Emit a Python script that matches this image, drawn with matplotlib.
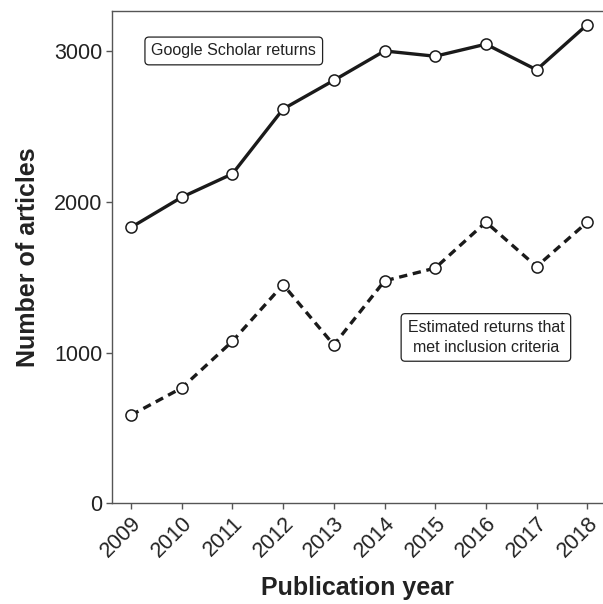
import matplotlib
matplotlib.use("Agg")
import matplotlib.pyplot as plt

years = [2009, 2010, 2011, 2012, 2013, 2014, 2015, 2016, 2017, 2018]
scholar_returns = [1830, 2030, 2185, 2615, 2805, 3000, 2965, 3045, 2875, 3175]
met_criteria = [585, 765, 1075, 1450, 1050, 1475, 1560, 1865, 1570, 1865]
y_ticks = [0, 1000, 2000, 3000]

plt.rcParams["font.family"] = ["Liberation Sans", "DejaVu Sans"]

fig = plt.figure(figsize=(6.03, 6.04), dpi=100)
ax = fig.add_axes([112.3 / 603, 100.7 / 604, (603 - 112.3) / 603, (503.3 - 11) / 604])

ax.plot(years, scholar_returns, color="#1a1a1a", lw=2.4, marker="o", ms=8,
        mfc="white", mec="#1a1a1a", mew=1.1, solid_capstyle="butt", zorder=3)
ax.plot(years, met_criteria, color="#1a1a1a", lw=2.4, ls=(0, (2.5, 1.7)),
        marker="o", ms=8, mfc="white", mec="#1a1a1a", mew=1.1, zorder=3)

box = dict(boxstyle="round,pad=0.4,rounding_size=0.25", fc="white", ec="#222222", lw=0.9)
ax.text(2009.4, 3000, "Google Scholar returns", fontsize=11.5, ha="left",
        va="center", bbox=box, color="#222222")
ax.text(2016.0, 1100, "Estimated returns that\nmet inclusion criteria",
        fontsize=11.5, ha="center", va="center", bbox=box, color="#222222",
        linespacing=1.4)

ax.set_xlim(2008.63, 2018.31)
ax.set_ylim(0, 3265)
ax.set_xticks(years)
ax.set_xticklabels([str(y) for y in years], rotation=45, ha="right",
                   rotation_mode="anchor")
ax.set_yticks(y_ticks)

ax.spines["right"].set_visible(False)
for side in ["left", "top", "bottom"]:
    ax.spines[side].set_color("#555555")
    ax.spines[side].set_linewidth(1.0)
ax.tick_params(axis="both", labelsize=15.5, length=4, width=1.0, color="#555555",
               labelcolor="#222222", pad=3)

ax.set_xlabel("Publication year", fontsize=18, fontweight="bold", labelpad=10,
              color="#222222")
ax.set_ylabel("Number of articles", fontsize=18, fontweight="bold", labelpad=10,
              color="#222222")

fig.savefig("out.png", dpi=100)
